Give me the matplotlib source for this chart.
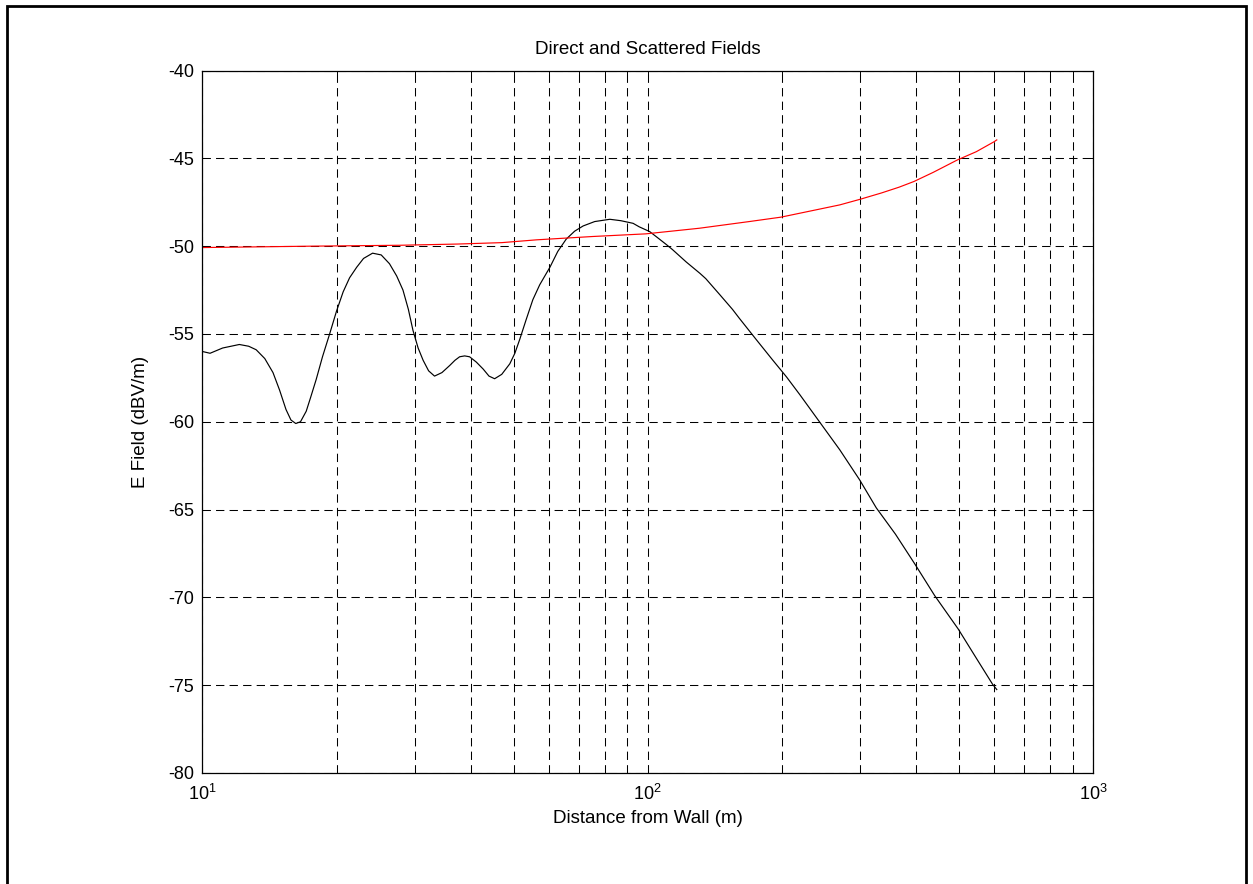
import matplotlib
matplotlib.use("Agg")
import matplotlib.pyplot as plt
from matplotlib.patches import Rectangle
from matplotlib.ticker import LogLocator, NullFormatter

plt.rcParams['font.family'] = ['Liberation Sans', 'DejaVu Sans']
plt.rcParams['mathtext.fontset'] = 'custom'
plt.rcParams['mathtext.rm'] = 'Liberation Sans'
plt.rcParams['axes.unicode_minus'] = False

# scattered field vs distance (black)
scat_dist = [10.0, 10.4, 11.1, 12.1, 12.7, 13.2, 13.8, 14.4, 14.9, 15.4,
             15.8, 16.2, 16.6, 17.1, 17.5, 18.0, 18.6, 19.3, 20.0, 20.7,
             21.4, 22.2, 23.0, 24.1, 25.2, 26.3, 27.3, 28.2, 29.0, 29.7,
             30.5, 31.3, 32.2, 33.2, 34.5, 35.9, 36.9, 37.8, 38.8, 39.8,
             41.2, 42.7, 44.0, 45.3, 47.0, 49.0, 50.3, 51.6, 53.3, 55.2,
             57.2, 60.3, 62.8, 65.6, 68.5, 71.6, 76.0, 82.2, 87.0, 92.7,
             95.7, 101, 105, 110, 113.7, 122, 131, 135, 145, 155,
             160.5, 175, 190.6, 205, 219.6, 243.5, 270, 299, 326, 360,
             398, 441, 498, 545, 595, 608]
scat_db = [-56.0, -56.1, -55.8, -55.6, -55.7, -55.9, -56.4, -57.2, -58.2, -59.3,
           -59.9, -60.1, -60.0, -59.4, -58.6, -57.6, -56.3, -55.0, -53.7, -52.6,
           -51.8, -51.2, -50.7, -50.4, -50.5, -51.0, -51.7, -52.5, -53.6, -54.8,
           -55.8, -56.5, -57.1, -57.4, -57.2, -56.8, -56.5, -56.3, -56.25, -56.3,
           -56.6, -57.0, -57.4, -57.55, -57.3, -56.7, -56.1, -55.3, -54.2, -53.05,
           -52.2, -51.2, -50.3, -49.6, -49.15, -48.85, -48.6, -48.47, -48.55, -48.7,
           -48.9, -49.17, -49.5, -49.9, -50.2, -50.9, -51.55, -51.85, -52.75, -53.6,
           -54.1, -55.3, -56.47, -57.45, -58.46, -60.03, -61.6, -63.3, -64.9, -66.4,
           -68.1, -69.9, -71.8, -73.4, -74.95, -75.25]

# direct field vs distance (red)
direct_dist = [10.0, 17.7, 27.7, 37.4, 47.0, 56.3, 75.3, 99.0, 130.6, 169,
               199, 238, 270, 300, 335, 367, 396, 437.5, 496, 547, 600, 608]
direct_db = [-50.08, -50.0, -49.95, -49.88, -49.8, -49.64, -49.45, -49.3, -48.98, -48.6,
             -48.35, -47.94, -47.65, -47.33, -46.97, -46.64, -46.32, -45.8, -45.09, -44.62,
             -44.05, -43.95]

yticks = list(range(-80, -39, 5))

fig = plt.figure(figsize=(12.53, 8.84), dpi=100)
fig.patches.append(Rectangle((0.0056, -0.02), 0.9888, 1.0132, transform=fig.transFigure,
                             fill=False, edgecolor='black', linewidth=2.0, clip_on=False))

ax = fig.add_axes([0.1616, 0.1256, 0.7107, 0.7946])
ax.plot(scat_dist, scat_db, color='black', linewidth=0.85)
ax.plot(direct_dist, direct_db, color='red', linewidth=0.85)

ax.set_xscale('log')
ax.set_xlim(10, 1000)
ax.set_ylim(-80, -40)
ax.set_yticks(yticks)
ax.set_yticklabels([str(v) for v in yticks])
ax.xaxis.set_minor_locator(LogLocator(base=10, subs=range(2, 10)))
ax.xaxis.set_minor_formatter(NullFormatter())

grid_style = dict(color='black', linewidth=0.75, linestyle=(0, (8, 5)))
ax.grid(True, which='major', axis='both', **grid_style)
ax.grid(True, which='minor', axis='x', **grid_style)

for s in ax.spines.values():
    s.set_linewidth(0.9)
ax.tick_params(which='both', direction='in', top=True, right=True,
               labelsize=13, width=0.7)
ax.tick_params(which='major', length=6, pad=6)
ax.tick_params(which='minor', length=3.5)
ax.tick_params(axis='x', pad=8)

ax.set_title('Direct and Scattered Fields', fontsize=13.5, pad=12)
ax.set_xlabel('Distance from Wall (m)', fontsize=13.5, labelpad=4)
ax.set_ylabel('E Field (dBV/m)', fontsize=13.5, labelpad=14)

fig.savefig('out.png', dpi=100)
